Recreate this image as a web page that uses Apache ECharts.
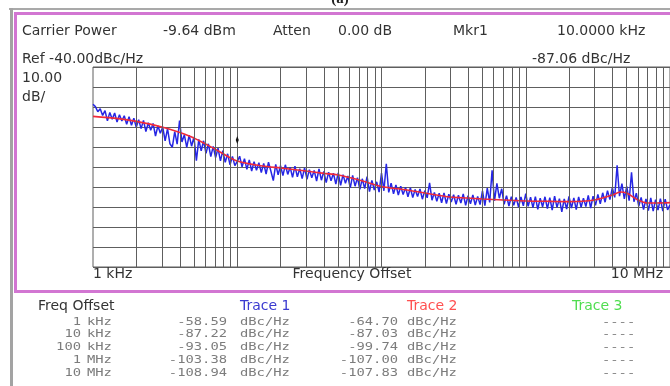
<!DOCTYPE html>
<html>
<head>
<meta charset="utf-8">
<script src="https://cdn.jsdelivr.net/npm/echarts@6/dist/echarts.min.js"></script>
<style>
  html, body { margin: 0; padding: 0; background: #fff; }
  #chart { width: 670px; height: 386px; }
</style>
</head>
<body>
<div id="chart"></div>
<script>
// Phase-noise sweep: 1 kHz .. 10 MHz offset, log sweep, 60 points per decade
const sweepStart = 1e3;
const sweepStop = 1e7;

// Trace 1 (raw, blue) in dBc/Hz, one value per sweep point
const trace1 = [
  -58.59, -59.8, -62.4, -60.9, -64.2, -61.8, -66.9, -62.7, -66.1, -63.0,
  -67.5, -63.9, -67.0, -64.4, -68.6, -64.9, -69.1, -65.6, -70.2, -66.3,
  -70.8, -66.7, -72.3, -67.9, -71.6, -68.2, -74.5, -69.4, -73.1, -70.0,
  -76.9, -70.8, -78.4, -80.1, -72.3, -78.6, -66.8, -77.5, -73.9, -80.2,
  -74.1, -79.6, -75.0, -86.8, -76.2, -81.9, -76.9, -83.2, -78.4, -84.8,
  -79.7, -85.3, -80.6, -86.9, -81.8, -87.7, -83.4, -88.9, -84.7, -89.3,
  -87.22, -84.6, -89.9, -85.8, -91.2, -86.5, -92.0, -87.3, -91.6, -87.9,
  -92.8, -88.2, -93.5, -87.6, -92.1, -96.8, -88.7, -93.9, -89.4, -94.3,
  -88.9, -93.7, -90.1, -95.2, -89.6, -94.9, -90.8, -95.8, -90.4, -96.1,
  -91.3, -95.4, -91.7, -97.0, -91.0, -96.6, -92.2, -97.8, -92.6, -96.9,
  -93.1, -98.5, -92.9, -99.2, -93.8, -98.1, -94.5, -100.4, -94.2, -99.6,
  -95.3, -101.2, -95.9, -100.8, -94.8, -102.3, -96.7, -101.5, -97.4, -102.6,
  -93.05, -101.9, -88.4, -102.7, -98.1, -103.4, -99.0, -104.0, -99.6, -103.8,
  -100.2, -104.9, -100.4, -105.3, -101.2, -104.7, -101.0, -106.1, -101.8, -105.4,
  -97.9, -106.6, -102.7, -107.2, -103.1, -107.9, -103.0, -108.3, -103.6, -107.5,
  -103.9, -108.6, -104.1, -108.0, -103.5, -109.2, -104.4, -108.4, -104.0, -109.0,
  -104.7, -108.8, -101.9, -109.3, -100.6, -107.7, -91.6, -106.9, -98.2, -105.6,
  -100.9, -108.7, -104.3, -109.5, -104.8, -109.1, -105.2, -110.0, -105.0, -109.4,
  -103.38, -109.7, -105.1, -110.3, -104.8, -111.2, -105.6, -109.9, -104.9, -110.8,
  -105.3, -111.5, -104.6, -110.2, -105.8, -112.4, -106.0, -111.0, -104.7, -110.6,
  -105.4, -111.3, -104.9, -110.1, -105.6, -109.8, -104.2, -110.5, -104.6, -109.2,
  -103.7, -108.4, -102.9, -107.6, -101.8, -106.3, -100.4, -105.2, -89.2, -104.6,
  -98.3, -105.9, -99.7, -106.8, -92.6, -107.4, -103.1, -109.6, -105.2, -111.3,
  -105.9, -111.8, -105.4, -112.1, -106.3, -111.6, -105.8, -112.0, -106.1, -111.4,
  -108.94
];

// Trace 2 (smoothed, red)
const trace2Freq = [1e3, 1.5e3, 2e3, 3e3, 4e3, 5e3, 7e3, 1e4, 1.5e4, 2e4, 3e4, 4e4, 5e4, 7e4,
  1e5, 1.5e5, 2e5, 3e5, 4e5, 5e5, 7e5, 1e6, 1.5e6, 2e6, 3e6, 4e6, 4.5e6, 5e6, 6e6, 7e6, 8e6, 1e7];
const trace2 = [-64.70, -65.8, -67.2, -70.0, -72.8, -75.5, -81.0, -87.03, -89.5, -90.5, -92.0, -93.2, -94.0, -96.5,
  -99.74, -101.5, -103.0, -105.0, -105.5, -106.0, -106.5, -107.00, -107.2, -107.3, -106.5, -104.0, -102.5, -103.0, -106.5, -108.0, -108.0, -107.83];

// Marker 1
const marker1 = { freq: 1e4, level: -87.06 };

// Log grid: decades and the 2..9 lines inside each
const gridDecades = [1e3, 1e4, 1e5, 1e6];
const gridSteps = [2, 3, 4, 5, 6, 7, 8, 9];

// Result table
const offsetNum = ['1', '10', '100', '1', '10'];
const offsetUnit = ['kHz', 'kHz', 'kHz', 'MHz', 'MHz'];
const table1 = [-58.59, -87.22, -93.05, -103.38, -108.94];
const table2 = [-64.70, -87.03, -99.74, -107.00, -107.83];

const nPts = trace1.length;
const trace1Data = trace1.map((v, i) => [sweepStart * Math.pow(sweepStop / sweepStart, i / (nPts - 1)), v]);
const trace2Data = trace2.map((v, i) => [trace2Freq[i], v]);
const vLines = [];
gridDecades.forEach(d => gridSteps.forEach(s => vLines.push({ xAxis: d * s })));
[1e4, 1e5, 1e6].forEach(d => vLines.push({ xAxis: d }));

const SANS = '"DejaVu Sans", sans-serif';
const MONO = '"DejaVu Sans Mono", monospace';
const gridColor = '#5e5e5e';

function label(x, y, text, opts) {
  opts = opts || {};
  return {
    type: 'text', x: x, y: y, z: 10,
    style: {
      text: text,
      font: (opts.size || 14) + 'px ' + SANS,
      fill: opts.color || '#333',
      textAlign: opts.align || 'left',
      textVerticalAlign: 'middle'
    }
  };
}
function mono(x, y, text, align) {
  return {
    type: 'text', x: x, y: y, z: 10, scaleX: 1.38,
    style: {
      text: text,
      font: '10px ' + MONO,
      fill: '#7c7c7c',
      textAlign: align || 'left',
      textVerticalAlign: 'middle'
    }
  };
}

const graphics = [
  // outer window edges
  { type: 'rect', shape: { x: 9, y: 8, width: 670, height: 2 }, style: { fill: '#a9a9a9' }, z: 5 },
  { type: 'rect', shape: { x: 10, y: 8, width: 3, height: 386 }, style: { fill: '#a3a3a3' }, z: 5 },
  // magenta plot frame
  { type: 'rect', shape: { x: 15.5, y: 13.5, width: 680, height: 278 }, style: { fill: 'none', stroke: '#d276d2', lineWidth: 3 }, z: 5 },
  // caption
  { type: 'text', x: 340, y: 7, z: 10, style: { text: '(a)', font: 'bold 15px "Liberation Serif", serif', fill: '#222', textAlign: 'center', textVerticalAlign: 'bottom' } },
  // header
  label(22, 31, 'Carrier Power'),
  label(163, 31, '-9.64 dBm'),
  label(273, 31, 'Atten'),
  label(338, 31, '0.00 dB'),
  label(453, 31, 'Mkr1'),
  label(557, 31, '10.0000 kHz'),
  label(22, 59, 'Ref -40.00dBc/Hz'),
  label(532, 59, '-87.06 dBc/Hz'),
  label(22, 78, '10.00'),
  label(22, 97, 'dB/'),
  // x axis annotations
  label(93, 274, '1 kHz'),
  label(352, 274, 'Frequency Offset', { align: 'center' }),
  label(663, 274, '10 MHz', { align: 'right' }),
  // table header
  label(38, 306, 'Freq Offset'),
  label(240, 306, 'Trace 1', { color: '#3a3ad0' }),
  label(407, 306, 'Trace 2', { color: '#ff5050' }),
  label(572, 306, 'Trace 3', { color: '#50dd50' })
];
for (let k = 0; k < offsetNum.length; k++) {
  const y = 322 + 12.75 * k;
  graphics.push(mono(81, y, offsetNum[k], 'right'));
  graphics.push(mono(87, y, offsetUnit[k]));
  graphics.push(mono(227, y, table1[k].toFixed(2), 'right'));
  graphics.push(mono(240, y, 'dBc/Hz'));
  graphics.push(mono(398, y, table2[k].toFixed(2), 'right'));
  graphics.push(mono(407, y, 'dBc/Hz'));
  graphics.push(mono(602, y, '----'));
}

const chart = echarts.init(document.getElementById('chart'), null, { renderer: 'canvas' });
chart.setOption({
  animation: false,
  backgroundColor: '#ffffff',
  grid: { left: 93, top: 67, width: 580, height: 200, show: true, borderColor: gridColor, borderWidth: 1, backgroundColor: 'transparent' },
  xAxis: {
    type: 'log', logBase: 10, min: sweepStart, max: sweepStop,
    axisLine: { show: false }, axisTick: { show: false }, axisLabel: { show: false },
    splitLine: { show: false }
  },
  yAxis: {
    type: 'value', min: -140, max: -40, interval: 10,
    axisLine: { show: false }, axisTick: { show: false }, axisLabel: { show: false },
    splitLine: { show: true, lineStyle: { color: gridColor, width: 1 } }
  },
  series: [
    {
      name: 'grid', type: 'line', data: [], z: 1, silent: true,
      markLine: {
        silent: true, symbol: ['none', 'none'], label: { show: false },
        lineStyle: { color: gridColor, width: 1, type: 'solid' },
        emphasis: { disabled: true },
        data: vLines
      }
    },
    {
      name: 'Trace 1', type: 'line', data: trace1Data, z: 2,
      showSymbol: false, silent: true,
      lineStyle: { color: '#2626e4', width: 1.5 },
      markPoint: {
        silent: true,
        data: [{ coord: [marker1.freq, marker1.level] }],
        symbol: 'diamond', symbolSize: [3, 8], symbolOffset: [0, -21],
        itemStyle: { color: '#111' }, label: { show: false }
      }
    },
    {
      name: 'Trace 2', type: 'line', data: trace2Data, z: 3,
      showSymbol: false, silent: true, smooth: 0.3,
      lineStyle: { color: '#f02a3a', width: 1.6 }
    }
  ],
  graphic: graphics
});
</script>
</body>
</html>
